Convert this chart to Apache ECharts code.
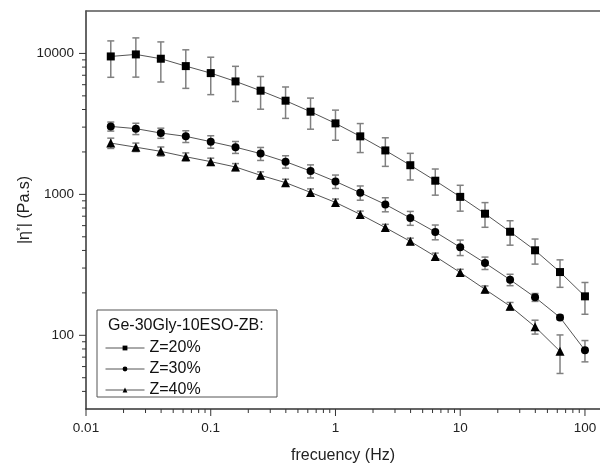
<!DOCTYPE html>
<html><head><meta charset="utf-8">
<script src="https://cdn.jsdelivr.net/npm/echarts@6/dist/echarts.min.js"></script>
<style>html,body{margin:0;padding:0;background:#fff}#c{width:600px;height:466px}</style>
</head><body><div id="c"></div>
<script>
const freq = [0.0158,0.0251,0.0398,0.0631,0.1,0.158,0.251,0.398,0.631,1,1.58,2.51,3.98,6.31,10,15.8,25.1,39.8,63.1,100];
const z20 = [9520,9840,9170,8130,7250,6330,5440,4620,3860,3190,2580,2050,1610,1250,960,729,543,401,281,189];
const z20Err = [2750,3050,2900,2480,2150,1770,1420,1160,960,770,600,470,345,263,200,145,107,81,62,48];
const z30 = [3035,2926,2723,2580,2365,2162,1946,1707,1463,1236,1028,849,680,541,421,326,248,186,134,78.3];
const z30Err = [224,270,225,247,240,210,206,172,156,135,119,97,77,65,53,33,23,12,5,13.5];
const z40 = [2311,2162,2019,1849,1707,1564,1365,1211,1033,877,721,581,464,363,279,212,161,115,77.1];
const z40Err = [194,150,150,120,100,90,80,70,60,50,40,32,25,20,15,12,10,13,23.5];
const seriesNames = ['Z=20%','Z=30%','Z=40%'];
const legendTitle = 'Ge-30Gly-10ESO-ZB:';
const xMajorTicks = [0.01,0.1,1,10,100];
const xMinorTicks = [0.02,0.03,0.04,0.05,0.06,0.07,0.08,0.09,0.2,0.3,0.4,0.5,0.6,0.7,0.8,0.9,2,3,4,5,6,7,8,9,20,30,40,50,60,70,80,90];
const yMajorTicks = [100,1000,10000];
const yMinorTicks = [40,50,60,70,80,90,200,300,400,500,600,700,800,900,2000,3000,4000,5000,6000,7000,8000,9000];
const xMin = 0.01, xMax = 132, yMin = 30, yMax = 20000;

const FONT = 'Liberation Sans, Arial, sans-serif';
const chart = echarts.init(document.getElementById('c'), null, {renderer:'canvas'});

function tickSeries(values, axis, len) {
  return {
    type:'custom', silent:true, clip:false, z:5,
    data: values.map(v => axis === 'x' ? [v, yMin] : [xMin, v]),
    encode:{x:0, y:1},
    renderItem: (params, api) => {
      const p = api.coord([api.value(0), api.value(1)]);
      const shape = axis === 'x'
        ? {x1:p[0], y1:p[1], x2:p[0], y2:p[1] + len}
        : {x1:p[0] - len, y1:p[1], x2:p[0], y2:p[1]};
      return {type:'line', shape, style:{stroke:'#333', lineWidth:1}};
    }
  };
}
function errSeries(xs, ys, es) {
  return {
    type:'custom', silent:true, z:2,
    data: ys.map((y, i) => [xs[i], y, es[i]]),
    encode:{x:0, y:1},
    renderItem: (params, api) => {
      const x = api.value(0), y = api.value(1), e = api.value(2);
      const hi = api.coord([x, y + e]);
      const lo = api.coord([x, y - e]);
      const w = 3.5;
      const st = {stroke:'#808080', lineWidth:1.5};
      return {type:'group', children:[
        {type:'line', shape:{x1:hi[0], y1:hi[1], x2:lo[0], y2:lo[1]}, style:st},
        {type:'line', shape:{x1:hi[0]-w, y1:hi[1], x2:hi[0]+w, y2:hi[1]}, style:st},
        {type:'line', shape:{x1:lo[0]-w, y1:lo[1], x2:lo[0]+w, y2:lo[1]}, style:st}
      ]};
    }
  };
}
function lineSeries(name, xs, ys, symbol, size) {
  return {
    name, type:'line', symbol, symbolSize:size, z:4,
    data: ys.map((y, i) => [xs[i], y]),
    itemStyle:{color:'#000'},
    lineStyle:{color:'#555', width:1},
    emphasis:{disabled:true}
  };
}

const option = {
  animation:false,
  backgroundColor:'#fff',
  textStyle:{fontFamily:FONT},
  grid:{left:86, right:0, top:11, bottom:57, outerBoundsMode:'none'},
  xAxis:[{
    type:'log', logBase:10, min:xMin, max:xMax, position:'bottom',
    axisLine:{show:true, lineStyle:{color:'#333', width:1.5}},
    axisTick:{show:false}, splitLine:{show:false}, minorTick:{show:false},
    axisLabel:{fontSize:13.5, color:'#222', fontFamily:FONT, margin:12, showMaxLabel:false,
      formatter: v => String(+Number(v).toPrecision(6))},
    name:'frecuency (Hz)', nameLocation:'middle', nameGap:39, nameMoveOverlap:false,
    nameTextStyle:{fontSize:16, color:'#222', fontFamily:FONT}
  },{
    type:'log', logBase:10, min:xMin, max:xMax, position:'top',
    axisLine:{show:true, lineStyle:{color:'#555', width:1.5}},
    axisTick:{show:false}, axisLabel:{show:false}, splitLine:{show:false}
  }],
  yAxis:[{
    type:'log', logBase:10, min:yMin, max:yMax, position:'left',
    axisLine:{show:true, lineStyle:{color:'#333', width:1.5}},
    axisTick:{show:false}, splitLine:{show:false}, minorTick:{show:false},
    axisLabel:{fontSize:13.5, color:'#222', fontFamily:FONT, margin:12, showMinLabel:false, showMaxLabel:false,
      formatter: v => String(+Number(v).toPrecision(6))},
    name:'|η{s|*}| (Pa.s)', nameLocation:'middle', nameGap:52, nameMoveOverlap:false,
    nameTextStyle:{fontSize:16, color:'#222', fontFamily:FONT,
      rich:{s:{fontSize:10, verticalAlign:'top', color:'#222', fontFamily:FONT, padding:[0,0,8,0]}}}
  }],
  legend:{
    data:seriesNames, orient:'vertical', left:105, top:340, padding:0,
    itemWidth:39, itemHeight:6, itemGap:5,
    lineStyle:{color:'#555', width:1},
    textStyle:{fontSize:16, color:'#111', fontFamily:FONT}
  },
  graphic:[
    {type:'rect', shape:{x:97, y:310, width:180, height:87}, style:{fill:'none', stroke:'#555', lineWidth:1}, z:10},
    {type:'text', x:108, y:326, style:{text:legendTitle, font:'16px ' + FONT, fill:'#111', verticalAlign:'middle'}, z:10}
  ],
  series:[
    tickSeries(xMajorTicks, 'x', 7),
    tickSeries(xMinorTicks, 'x', 4),
    tickSeries(yMajorTicks, 'y', 7),
    tickSeries(yMinorTicks, 'y', 4),
    errSeries(freq, z20, z20Err),
    errSeries(freq, z30, z30Err),
    errSeries(freq.slice(0, z40.length), z40, z40Err),
    lineSeries(seriesNames[0], freq, z20, 'rect', 8),
    lineSeries(seriesNames[1], freq, z30, 'circle', 8),
    lineSeries(seriesNames[2], freq.slice(0, z40.length), z40, 'triangle', 9)
  ]
};
chart.setOption(option);
</script></body></html>
